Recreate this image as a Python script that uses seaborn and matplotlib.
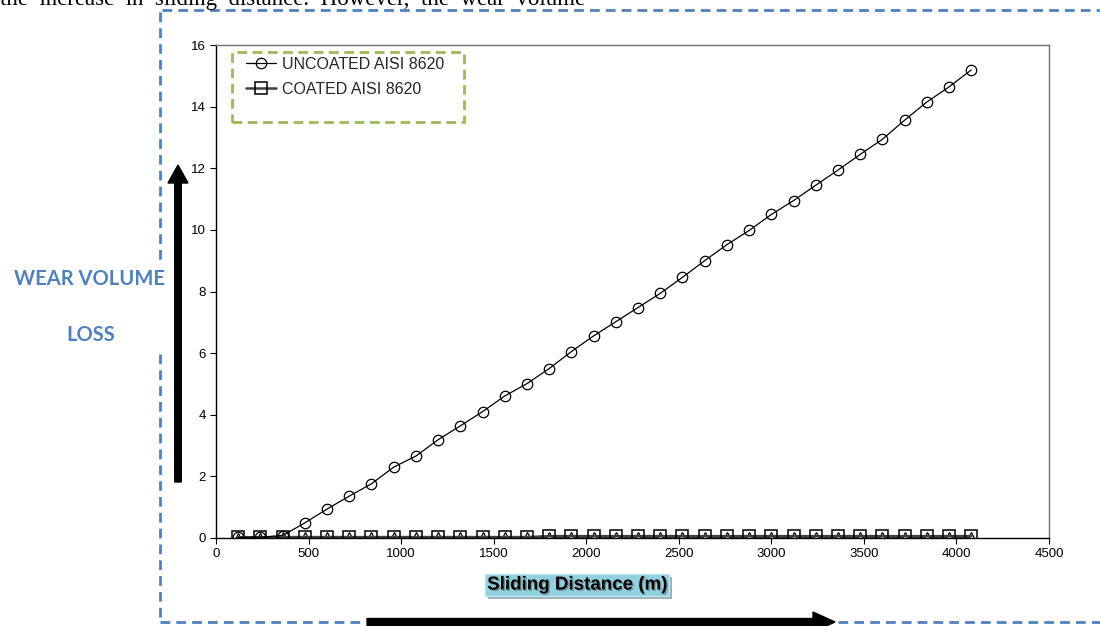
import numpy as np
import pandas as pd
import seaborn as sns
import matplotlib
matplotlib.use("Agg")
import matplotlib.pyplot as plt
import matplotlib.patheffects as pe
from matplotlib.patches import FancyArrow, Rectangle
from matplotlib.lines import Line2D

# ---------------- data ----------------
sliding_distance = [120, 240, 360, 480, 600, 720, 840, 960, 1080, 1200, 1320, 1440,
                    1560, 1680, 1800, 1920, 2040, 2160, 2280, 2400, 2520, 2640, 2760,
                    2880, 3000, 3120, 3240, 3360, 3480, 3600, 3720, 3840, 3960, 4080]
uncoated = [0.02, 0.03, 0.08, 0.49, 0.94, 1.36, 1.76, 2.30, 2.66, 3.19, 3.64, 4.10,
            4.61, 5.01, 5.50, 6.05, 6.56, 7.02, 7.48, 7.94, 8.46, 9.00, 9.52,
            9.98, 10.50, 10.95, 11.45, 11.94, 12.45, 12.94, 13.56, 14.15, 14.64, 15.19]
coated = [0.02, 0.02, 0.03, 0.03, 0.03, 0.03, 0.03, 0.03, 0.03, 0.03, 0.03, 0.03,
          0.03, 0.03, 0.06, 0.06, 0.06, 0.06, 0.06, 0.06, 0.06, 0.06, 0.06,
          0.06, 0.06, 0.06, 0.06, 0.06, 0.06, 0.06, 0.06, 0.06, 0.06, 0.06]
coated_tri = [0.01, 0.01, 0.02, 0.02, 0.02, 0.02, 0.02, 0.02, 0.02, 0.02, 0.02, 0.02,
              0.02, 0.02, 0.03, 0.03, 0.03, 0.03, 0.03, 0.03, 0.03, 0.03, 0.03,
              0.03, 0.03, 0.03, 0.03, 0.03, 0.03, 0.03, 0.03, 0.03, 0.03, 0.03]
series_labels = ["UNCOATED AISI 8620", "COATED AISI 8620"]
x_ticks = [0, 500, 1000, 1500, 2000, 2500, 3000, 3500, 4000, 4500]
y_ticks = [0, 2, 4, 6, 8, 10, 12, 14, 16]
x_label = "Sliding Distance (m)"
side_label_1 = "WEAR VOLUME"
side_label_2 = "LOSS"
top_text = "the  increase  in  sliding  distance.  However,  the  wear  volume"

# ---------------- style ----------------
sns.set_theme(style="white")
plt.rcParams["font.family"] = ["Liberation Sans", "DejaVu Sans"]

W, H = 1100, 626
AX_L, AX_R, AX_T, AX_B = 216, 1049, 45, 538
fig = plt.figure(figsize=(W / 100, H / 100), dpi=100)
ax = fig.add_axes([AX_L / W, (H - AX_B) / H, (AX_R - AX_L) / W, (AX_B - AX_T) / H])

df = pd.DataFrame({"x": sliding_distance, "unc": uncoated, "coa": coated, "tri": coated_tri})

sns.lineplot(data=df, x="x", y="tri", ax=ax, color="#404040", lw=1.4, marker="^",
             markersize=7, markerfacecolor="white", markeredgecolor="black",
             markeredgewidth=0.9, legend=False)
sns.lineplot(data=df, x="x", y="coa", ax=ax, color="#404040", lw=1.8, marker="s",
             markersize=8, markerfacecolor="none", markeredgecolor="black",
             markeredgewidth=1.1, label=series_labels[1])
sns.lineplot(data=df, x="x", y="unc", ax=ax, color="black", lw=0.9, marker="o",
             markersize=7.5, markerfacecolor="none", markeredgecolor="black",
             markeredgewidth=0.9, label=series_labels[0])

ax.set_xlim(0, 4500)
ax.set_ylim(0, 16)
ax.set_xticks(x_ticks)
ax.set_yticks(y_ticks)
ax.set_ylabel("")
ax.tick_params(axis="both", labelsize=9.5, colors="black", length=4, width=0.8,
               direction="out", left=True, bottom=True)
for s in ["left", "bottom"]:
    ax.spines[s].set_color("black")
    ax.spines[s].set_linewidth(1.0)
for s in ["top", "right"]:
    ax.spines[s].set_color("#707070")
    ax.spines[s].set_linewidth(1.0)

xl = ax.set_xlabel(x_label, fontsize=13.5, fontweight="bold", color="black",
                   bbox=dict(boxstyle="square,pad=0.12", facecolor="#92d0e0",
                             edgecolor="#b8e4ee", linewidth=1.0))
ax.xaxis.set_label_coords((577 - AX_L) / (AX_R - AX_L), (AX_B - 585) / (AX_B - AX_T))
xl.set_va("center")
xl.get_bbox_patch().set_path_effects([
    pe.SimplePatchShadow(offset=(2, -2), shadow_rgbFace="#8a9aa0", alpha=0.8),
    pe.Normal()])
xl.set_path_effects([pe.withSimplePatchShadow(offset=(1, -1), shadow_rgbFace="#555555", alpha=0.5)])

# legend
h, l = ax.get_legend_handles_labels()
order = [l.index(series_labels[0]), l.index(series_labels[1])]
ax.legend([h[i] for i in order], [l[i] for i in order], loc="upper left",
          bbox_to_anchor=((246 - AX_L) / (AX_R - AX_L), 1 - (57 - AX_T) / (AX_B - AX_T)),
          frameon=False, fontsize=11.5, borderaxespad=0,
          handlelength=1.9, handletextpad=0.35, labelspacing=0.6, borderpad=0.0)
ax.add_patch(Rectangle(((232 - AX_L) / (AX_R - AX_L), 1 - (122 - AX_T) / (AX_B - AX_T)),
                       (464 - 232) / (AX_R - AX_L), 70 / (AX_B - AX_T),
                       transform=ax.transAxes, fill=False, edgecolor="#9BBB59",
                       linewidth=2.0, linestyle=(0, (3.5, 2.0)), clip_on=False))

# decorations (figure-inch coordinates)
T = fig.dpi_scale_trans
blue = "#4F81BD"
dash = (0, (3.5, 2.2))
def pline(xs, ys):
    fig.add_artist(Line2D([v / 100 for v in xs], [(H - v) / 100 for v in ys],
                          transform=T, color=blue, lw=2.0, linestyle=dash))
pline([160, 160], [12, 265])
pline([160, 160], [354, 622])
pline([162, 1100], [10, 10])
pline([160, 366], [622, 622])
pline([838, 1100], [622, 622])

fig.add_artist(FancyArrow(1.78, (H - 482) / 100, 0, (482 - 165) / 100, width=0.065,
                          head_width=0.2, head_length=0.18, length_includes_head=True,
                          transform=T, color="black"))
fig.add_artist(FancyArrow(3.67, (H - 622) / 100, 8.35 - 3.67, 0, width=0.07,
                          head_width=0.2, head_length=0.22, length_includes_head=True,
                          transform=T, color="black"))

fig.text(0.89, (H - 279) / 100, side_label_1, transform=T, ha="center", va="center",
         fontsize=14.5, fontweight="bold", color=blue, family=["Lato", "DejaVu Sans"])
fig.text(0.91, (H - 335) / 100, side_label_2, transform=T, ha="center", va="center",
         fontsize=14.5, fontweight="bold", color=blue, family=["Lato", "DejaVu Sans"])
fig.text(0.0, (H - 5) / 100, top_text, transform=T, ha="left", va="baseline",
         fontsize=16.5, color="black", family=["Liberation Serif", "DejaVu Serif"])

fig.savefig("out.png", dpi=100)
